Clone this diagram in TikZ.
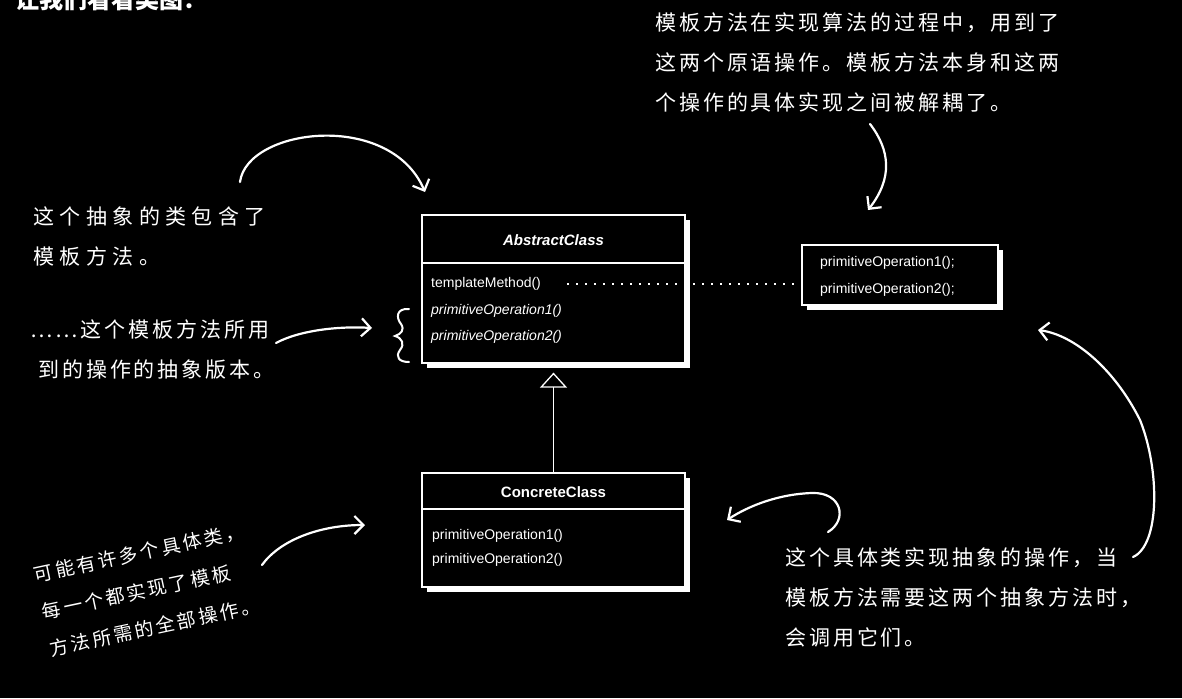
\documentclass[tikz,border=0pt]{standalone}
\usepackage{fontspec}
\setmainfont{Liberation Sans}
\newfontfamily\umlfont{Liberation Sans}
\newfontfamily\handfont[LetterSpace=14]{Noto Sans CJK SC}
\newfontfamily\titlefont{Noto Sans CJK SC}
\usepackage{tikz}
\usetikzlibrary{arrows.meta, shadows}

\tikzset{
    umlbox/.style={draw=white, fill=black, line width=1.2pt, inner sep=0pt,
        drop shadow={fill=white, opacity=1, shadow xshift=5pt, shadow yshift=-5pt}},
    method/.style={anchor=west, inner sep=0pt, text=white, font=\umlfont\fontsize{14}{16}\selectfont},
    classname/.style={inner sep=0pt, text=white, font=\umlfont\bfseries\fontsize{15}{18}\selectfont},
    note/.style={anchor=north west, inner sep=0pt, text=white, align=left, font=\handfont\fontsize{21}{40}\selectfont},
    hand/.style={draw=white, line width=2.2pt, line cap=round, line join=round, -{Straight Barb[length=9pt, width=18pt]}},
}

\begin{document}
\begin{tikzpicture}[x=1pt, y=-1pt]

    % black page
    \fill[black] (0,0) rectangle (1182,698);
    \useasboundingbox (0,0) rectangle (1182,698);

    % title, cut at the top edge
    \node[anchor=base west, inner sep=0pt, text=white, font=\titlefont\bfseries\fontsize{24}{24}\selectfont] (title) at (15,9) {让我们看看类图：};

    % abstract class
    \node[umlbox, minimum width=263pt, minimum height=148pt] (abs) at (553.5,289) {};
    \draw[white, line width=1.2pt] (422,263) -- (685,263);
    \node[classname] (absname) at (553.5,240) {\itshape AbstractClass};
    \node[method] (tm) at (431,284) {templateMethod()};
    \foreach \i/\y in {1/311, 2/337}
        \node[method] (absop\i) at (431,\y) {\itshape primitiveOperation\i()};

    % concrete class
    \node[umlbox, minimum width=263pt, minimum height=114pt] (con) at (553.5,530) {};
    \draw[white, line width=1.2pt] (422,509) -- (685,509);
    \node[classname] (conname) at (553.5,492) {ConcreteClass};
    \foreach \i/\y in {1/536, 2/560}
        \node[method] (conop\i) at (432,\y) {primitiveOperation\i()};

    % the calls inside templateMethod
    \node[umlbox, minimum width=196pt, minimum height=60pt] (impl) at (900,275) {};
    \foreach \i/\y in {1/263, 2/290}
        \node[method] (implop\i) at (820,\y) {primitiveOperation\i();};

    % inheritance
    \draw[white, line width=1.3pt, -{Triangle[open, length=15pt, width=27pt]}, shorten >=9pt] (con.north) -- (abs.south);

    % dotted note link
    \draw[white, line width=2pt, dash pattern=on 2pt off 7pt, shorten <=26pt] (tm.east) -- (tm.east -| impl.west);

    % hand written notes
    \node[note, font=\handfont\addfontfeature{LetterSpace=26}\fontsize{21}{40}\selectfont] (noteabs) at (33,207) {这个抽象的类包含了\\模板方法。};
    \node[note] (notebrace) at (30,320) {……这个模板方法所用\\\hspace*{8pt}到的操作的抽象版本。};
    \node[note, anchor=center, rotate=12, font=\handfont\fontsize{19}{38}\selectfont] (notemany) at (147,590) {可能有许多个具体类，\\每一个都实现了模板\\方法所需的全部操作。};
    \node[note] (notedecouple) at (655,13) {模板方法在实现算法的过程中，用到了\\这两个原语操作。模板方法本身和这两\\个操作的具体实现之间被解耦了。};
    \node[note] (noteconcrete) at (785,548) {这个具体类实现抽象的操作，当\\模板方法需要这两个抽象方法时，\\会调用它们。};

    % free ends of the hand drawn arrows
    \coordinate (a1s) at (240,182);
    \coordinate (a1e) at (425,192);
    \coordinate (a2s) at (276,343);
    \coordinate (a2e) at (372,328);
    \coordinate (a3s) at (870,124);
    \coordinate (a3e) at (868,210);
    \coordinate (a4s) at (828,532);
    \coordinate (a4e) at (727,520);
    \coordinate (a5s) at (1133,557);
    \coordinate (a5e) at (1038,330);
    \coordinate (a6s) at (262,565);
    \coordinate (a6e) at (365,525);

    % hand drawn arrows
    \draw[hand] (a1s) .. controls (247,128) and (390,110) .. (a1e);
    \draw[hand] (a2s) .. controls (300,330) and (340,326) .. (a2e);
    \draw[hand] (a3s) .. controls (890,150) and (893,178) .. (a3e);
    \draw[hand] (a4s) .. controls (848,520) and (842,492) .. (812,493) .. controls (780,494) and (750,505) .. (a4e);
    \draw[hand] (a5s) .. controls (1160,545) and (1160,470) .. (1140,420) .. controls (1115,370) and (1075,335) .. (a5e);
    \draw[hand] (a6s) .. controls (280,540) and (320,525) .. (a6e);

    % curly brace
    \draw[white, line width=2pt, line cap=round] (409,309) .. controls (396,308) and (396,318) .. (401,324)
        .. controls (405,330) and (401,334) .. (395,336) .. controls (402,338) and (405,344) .. (400,350)
        .. controls (395,357) and (399,362) .. (409,362);

\end{tikzpicture}
\end{document}
